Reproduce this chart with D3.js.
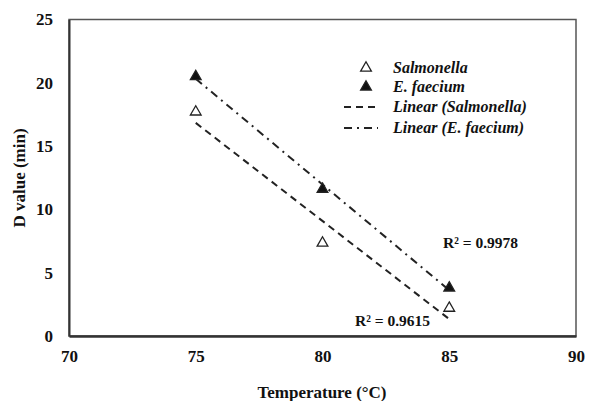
<!DOCTYPE html>
<html>
<head>
<meta charset="utf-8">
<script src="https://cdn.jsdelivr.net/npm/d3@7"></script>
<style>
  body { margin: 0; background: #fff; }
  svg text { font-family: "Liberation Serif", "Times New Roman", serif !important; font-weight: bold !important; fill: #111; }
</style>
</head>
<body>
<svg id="chart" width="589" height="401"></svg>
<script>
const temps = [75, 80, 85];
const salmonella = [17.7, 7.35, 2.2];
const faecium = [20.5, 11.6, 3.8];
const xTicks = [70, 75, 80, 85, 90];
const yTicks = [0, 5, 10, 15, 20, 25];
const r2Labels = ["R² = 0.9615", "R² = 0.9978"];

const svg = d3.select("#chart");
const x = d3.scaleLinear().domain([70, 90]).range([69, 576]);
const y = d3.scaleLinear().domain([0, 25]).range([336, 19.5]);

// least squares fit for the trend lines
function fit(xs, ys) {
    const mx = d3.mean(xs), my = d3.mean(ys);
    const b = d3.sum(xs, (v, i) => (v - mx) * (ys[i] - my)) / d3.sum(xs, v => (v - mx) * (v - mx));
    return v => my + b * (v - mx);
}

// frame
svg.append("rect")
    .attr("x", x(70)).attr("y", y(25))
    .attr("width", x(90) - x(70)).attr("height", y(0) - y(25))
    .attr("fill", "none").attr("stroke", "#555").attr("stroke-width", 1.5);

svg.append("g")
    .attr("transform", `translate(0,${y(0)})`)
    .call(d3.axisBottom(x).tickValues(xTicks).tickSize(0).tickPadding(14))
    .call(g => g.select(".domain").attr("stroke", "#333").attr("stroke-width", 2.5))
    .selectAll("text").style("font-size", "17px");

svg.append("g")
    .attr("transform", `translate(${x(70)},0)`)
    .call(d3.axisLeft(y).tickValues(yTicks).tickSize(0).tickPadding(16))
    .call(g => g.select(".domain").attr("stroke", "#333").attr("stroke-width", 2))
    .selectAll("text").style("font-size", "17px");

// trend lines
const series = [
    { name: "Salmonella", values: salmonella, filled: false, dash: "7,5" },
    { name: "E. faecium", values: faecium, filled: true, dash: "8,5,2,5" }
];

const line = d3.line().x(d => x(d[0])).y(d => y(d[1]));
series.forEach(s => {
    const f = fit(temps, s.values);
    const ends = d3.extent(temps);
    svg.append("path")
        .attr("d", line(ends.map(t => [t, f(t)])))
        .attr("fill", "none").attr("stroke", "#222")
        .attr("stroke-width", 2).attr("stroke-dasharray", s.dash);
});

const tri = d3.symbol().type(d3.symbolTriangle).size(50);
series.forEach(s => {
    svg.append("g").selectAll("path")
        .data(temps.map((t, i) => [t, s.values[i]]))
        .join("path")
        .attr("d", tri)
        .attr("transform", d => `translate(${x(d[0])},${y(d[1])})`)
        .attr("fill", s.filled ? "#111" : "#fff")
        .attr("stroke", "#222").attr("stroke-width", 1.3);
});

// R² labels
svg.append("text").attr("x", 355).attr("y", 326).style("font-size", "15.5px").text(r2Labels[0]);
svg.append("text").attr("x", 443).attr("y", 248).style("font-size", "15.5px").text(r2Labels[1]);

// legend
const legend = svg.append("g");
const legendRows = [
    { label: "Salmonella", kind: "open" },
    { label: "E. faecium", kind: "filled" },
    { label: "Linear (Salmonella)", kind: "dash", dash: "7,5" },
    { label: "Linear (E. faecium)", kind: "dash", dash: "8,5,2,5" }
];
const rowY = [68, 87, 107, 128];
legendRows.forEach((r, i) => {
    const yy = rowY[i];
    if (r.kind === "dash") {
        legend.append("line")
            .attr("x1", 344).attr("x2", 378).attr("y1", yy).attr("y2", yy)
            .attr("stroke", "#222").attr("stroke-width", 2).attr("stroke-dasharray", r.dash);
    } else {
        legend.append("path")
            .attr("d", tri)
            .attr("transform", `translate(366,${yy})`)
            .attr("fill", r.kind === "filled" ? "#111" : "#fff")
            .attr("stroke", "#222").attr("stroke-width", 1.3);
    }
    legend.append("text")
        .attr("x", 393).attr("y", yy + 5)
        .style("font-size", "16px").style("font-style", "italic")
        .text(r.label);
});

// axis titles
svg.append("text")
    .attr("x", 322).attr("y", 398)
    .attr("text-anchor", "middle").style("font-size", "17px")
    .text("Temperature (°C)");

svg.append("text")
    .attr("transform", "translate(25,178) rotate(-90)")
    .attr("text-anchor", "middle").style("font-size", "17px")
    .text("D value (min)");
</script>
</body>
</html>
